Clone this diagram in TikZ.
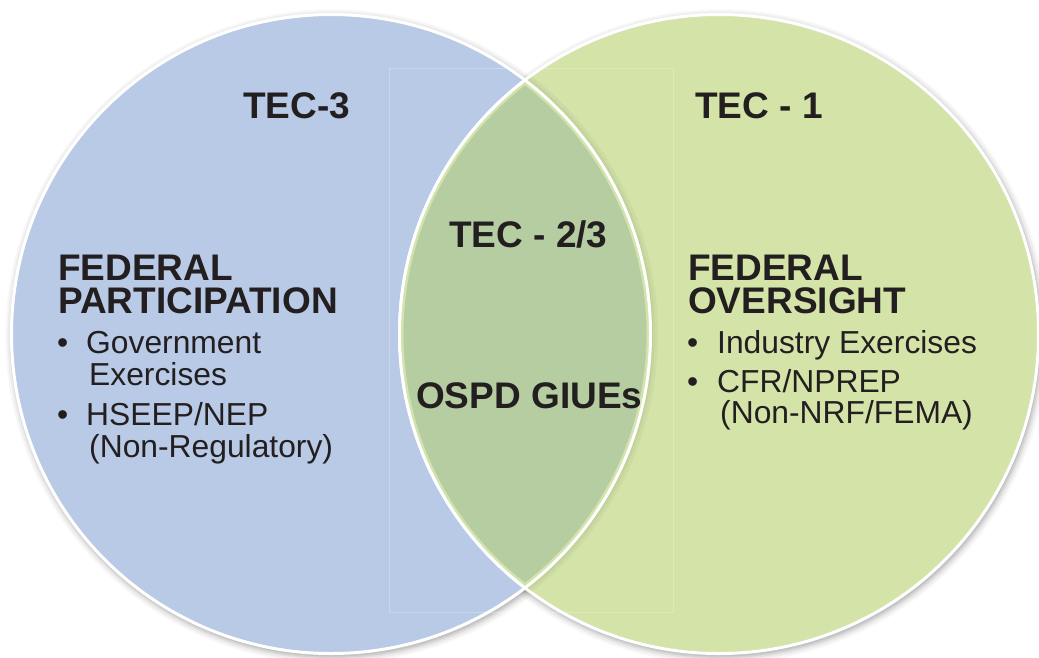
\documentclass[tikz,border=0pt]{standalone}
\usepackage{fontspec}
\setmainfont{Liberation Sans}
\definecolor{bluefill}{HTML}{B8CAE6}
\definecolor{greenfill}{HTML}{D4E4A8}
\definecolor{lensfill}{HTML}{B5CDA1}
\definecolor{lensedge}{HTML}{D2E3AB}
\definecolor{txt}{HTML}{231F20}
\tikzset{
  head/.style={text=txt, inner sep=0pt, anchor=base west, text height=27pt, text depth=0pt, font=\fontsize{37}{37}\selectfont\bfseries},
  item/.style={text=txt, inner sep=0pt, anchor=base west, font=\fontsize{31.8}{32}\selectfont},
  ring/.style={draw=white, line width=3pt},
}
\begin{document}
\begin{tikzpicture}[x=1pt,y=-1pt]
\useasboundingbox (0,0) rectangle (1039,657);
\fill[white] (0,0) rectangle (1039,657);
\coordinate (L) at (331,334);
\coordinate (R) at (719,334);
% soft shadows
\foreach \o/\a in {9/0.03,7/0.04,5/0.05,3.5/0.06,2/0.07}{
  \fill[black, opacity=\a] ([shift={(1.5,2.5)}]L) circle (318+\o);
  \fill[black, opacity=\a] ([shift={(1.5,2.5)}]R) circle (318+\o);
}
% left circle
\fill[bluefill] (L) circle (318);
\draw[ring] (L) circle (319.5);
% right circle
\fill[greenfill] (R) circle (318);
\draw[ring] (R) circle (319.5);
% shadow of lens right arc inside green
\begin{scope}
  \clip (R) circle (318);
  \foreach \o/\a in {8/0.03,6/0.04,4.5/0.05,3/0.06}{
    \draw[black, opacity=\a, line width=2pt] (L) circle (318+\o);
  }
\end{scope}
% lens
\begin{scope}
  \clip (L) circle (318);
  \clip (R) circle (318);
  \fill[lensfill] (L) circle (318);
  \draw[lensedge, line width=5pt] (L) circle (318);
  \draw[lensedge, line width=5pt] (R) circle (318);
\end{scope}
\begin{scope}
  \clip (L) circle (321);
  \draw[ring] (R) circle (319.5);
\end{scope}
\begin{scope}
  \clip (R) circle (321);
  \draw[ring] (L) circle (319.5);
\end{scope}
% faint frame
\draw[white, opacity=0.25, line width=0.8pt] (389.5,68.5) rectangle (673.5,612.5);
% texts
\node[head] (tec3) at (243,118) {TEC-3};
\node[head] (tec1) at (695,118) {TEC - 1};
\node[head] (tec23) at (449,247) {TEC - 2/3};
\node[head] (ospd) at (416,408) {OSPD GIUEs};
\node[head] (fed1) at (58,280) {FEDERAL};
\node[head] (part) at (58,313) {PARTICIPATION};
\node[head] (fed2) at (688,280) {FEDERAL};
\node[head] (over) at (688,313) {OVERSIGHT};
% left list
\node[item] (b1) at (57,353) {•};
\node[item] (gov) at (86,353) {Government};
\node[item] (exe) at (89,385) {Exercises};
\node[item] (b2) at (57,425) {•};
\node[item] (hse) at (86,425) {HSEEP/NEP};
\node[item] (nonreg) at (89,457) {(Non-Regulatory)};
% right list
\node[item] (b3) at (687,353) {•};
\node[item] (ind) at (717,353) {Industry Exercises};
\node[item] (b4) at (687,392) {•};
\node[item] (cfr) at (717,392) {CFR/NPREP};
\node[item] (nonnrf) at (720,423) {(Non-NRF/FEMA)};
\end{tikzpicture}
\end{document}
